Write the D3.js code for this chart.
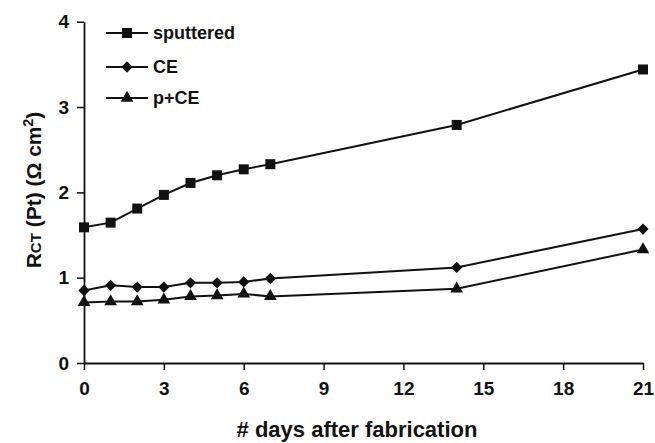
<!DOCTYPE html>
<html>
<head>
<meta charset="utf-8">
<script src="https://cdn.jsdelivr.net/npm/d3@7"></script>
<style>
  html, body { margin: 0; padding: 0; background: #fff; }
  svg { display: block; }
  text { font-family: "Liberation Sans", Arial, sans-serif; font-weight: bold; fill: #111; }
</style>
</head>
<body>
<svg id="chart" width="655" height="443"></svg>
<script>
const days = [0, 1, 2, 3, 4, 5, 6, 7, 14, 21];
const sputtered = [1.59, 1.645, 1.81, 1.97, 2.11, 2.20, 2.27, 2.33, 2.79, 3.44];
const ce = [0.85, 0.91, 0.89, 0.89, 0.94, 0.94, 0.95, 0.99, 1.12, 1.57];
const pce = [0.71, 0.72, 0.72, 0.74, 0.78, 0.79, 0.81, 0.78, 0.87, 1.33];
const seriesNames = ["sputtered", "CE", "p+CE"];
const xTicks = [0, 3, 6, 9, 12, 15, 18, 21];
const yTicks = [0, 1, 2, 3, 4];

const svg = d3.select("#chart");
const x = d3.scaleLinear().domain([0, 21]).range([84, 643]);
const y = d3.scaleLinear().domain([0, 4]).range([363, 21.7]);

const ink = "#111";

// axes
const xAxis = svg.append("g").attr("transform", `translate(0,${y(0)})`)
  .call(d3.axisBottom(x).tickValues(xTicks).tickFormat(d3.format("d")).tickSize(7).tickPadding(12).tickSizeOuter(0));
const yAxis = svg.append("g").attr("transform", `translate(${x(0)},0)`)
  .call(d3.axisLeft(y).tickValues(yTicks).tickFormat(d3.format("d")).tickSize(7).tickPadding(8).tickSizeOuter(0));
[xAxis, yAxis].forEach(g => {
  g.select(".domain").attr("stroke", ink).attr("stroke-width", 1.8);
  g.selectAll(".tick line").attr("stroke", ink).attr("stroke-width", 1.5);
  g.selectAll(".tick text").style("font-size", "19px").style("font-family", '"Liberation Sans", Arial, sans-serif').style("font-weight", "bold").attr("fill", ink);
});

// series
const symSquare = d3.symbol().type(d3.symbolSquare).size(100);
const symDiamond = d3.symbol().type(d3.symbolSquare).size(64);
const symTriangle = d3.symbol().type(d3.symbolTriangle).size(70);
const series = [
  { name: seriesNames[0], values: sputtered, sym: symSquare, rot: 0 },
  { name: seriesNames[1], values: ce, sym: symDiamond, rot: 45 },
  { name: seriesNames[2], values: pce, sym: symTriangle, rot: 0 }
];

const line = d3.line().x(d => x(d[0])).y(d => y(d[1]));
series.forEach(s => {
  const pts = days.map((d, i) => [d, s.values[i]]);
  svg.append("path").datum(pts).attr("d", line)
    .attr("fill", "none").attr("stroke", ink).attr("stroke-width", 2);
  svg.selectAll(null).data(pts).enter().append("path")
    .attr("d", s.sym())
    .attr("transform", d => `translate(${x(d[0])},${y(d[1])}) rotate(${s.rot})`)
    .attr("fill", ink);
});

// legend
const legY = [33, 67, 98];
series.forEach((s, i) => {
  const g = svg.append("g").attr("transform", `translate(0,${legY[i]})`);
  g.append("line").attr("x1", 106).attr("x2", 148).attr("y1", 0).attr("y2", 0)
    .attr("stroke", ink).attr("stroke-width", 2);
  g.append("path").attr("d", s.sym()).attr("transform", `translate(127,0) rotate(${s.rot})`).attr("fill", ink);
  g.append("text").attr("x", 153).attr("y", 0).attr("dy", "0.35em")
    .style("font-size", "18px").text(s.name);
});

// x title
svg.append("text").attr("x", 357).attr("y", 437).attr("text-anchor", "middle")
  .style("font-size", "22px").text("# days after fabrication");

// y title
const yt = svg.append("text").attr("transform", "translate(41,190) rotate(-90)")
  .attr("text-anchor", "middle").style("font-size", "21px");
yt.append("tspan").text("R");
yt.append("tspan").style("font-size", "15px").text("CT");
yt.append("tspan").text(" (Pt) (Ω cm");
yt.append("tspan").style("font-size", "14px").attr("dy", "-8").text("2");
yt.append("tspan").attr("dy", "8").text(")");
</script>
</body>
</html>
